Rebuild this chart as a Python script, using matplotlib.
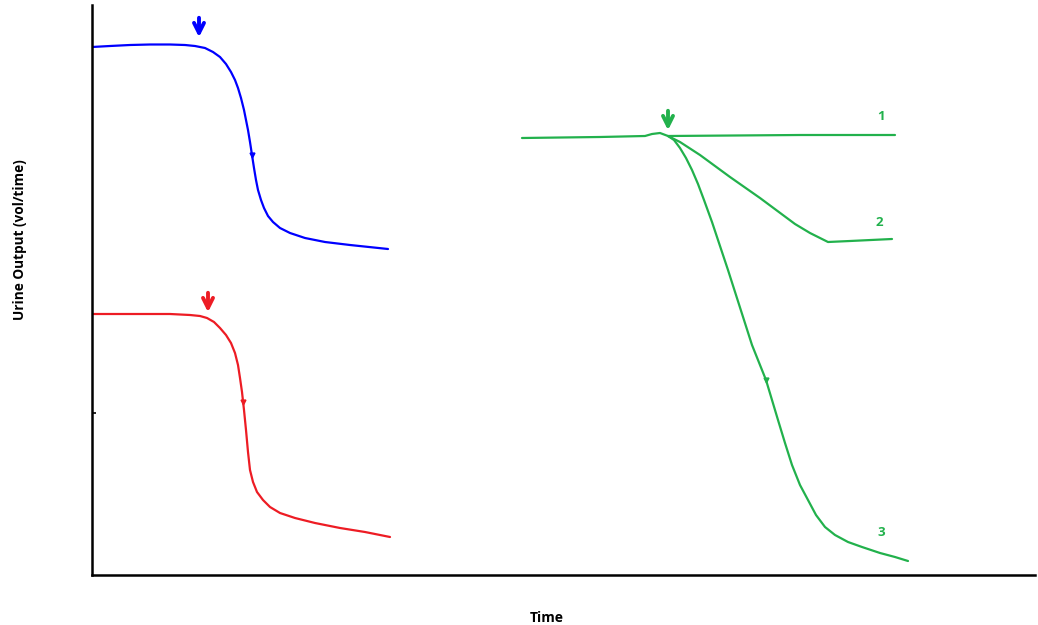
import matplotlib.pyplot as plt

# Values (time units across, output units up)
blue_t = [0, 18, 38, 58, 78, 93, 103, 113, 121, 128, 134, 139, 143, 146, 149,
          152, 154, 156, 158, 160, 162, 164, 166, 169, 172, 176, 181, 188, 198,
          213, 233, 258, 296]
blue_v = [528, 529, 530, 530.5, 530.5, 530, 529, 527, 523, 518, 511, 503, 495,
          487, 477, 465, 455, 445, 433, 420, 407, 395, 385, 375, 367, 359, 353,
          347, 342, 337, 333, 330, 326]

red_t = [0, 38, 78, 98, 108, 115, 122, 128, 134, 139, 143, 146, 148, 150, 152,
         154, 156, 158, 161, 165, 171, 178, 188, 203, 223, 248, 273, 298]
red_v = [261, 261, 261, 260, 259, 257, 253, 247, 240, 232, 222, 210, 197, 183,
         165, 145, 123, 105, 93, 83, 75, 68, 62, 57, 52, 47, 43, 38]

g1_t = [430, 508, 553, 560, 568, 576, 708, 803]
g1_v = [437, 438, 439, 441, 442, 439, 440, 440]

g2_t = [576, 588, 608, 638, 668, 703, 718, 736, 758, 800]
g2_v = [439, 433, 420, 398, 377, 351, 342, 333, 334, 336]

g3_t = [576, 582, 588, 594, 600, 606, 612, 620, 628, 636, 644, 652, 660, 668,
        674, 680, 686, 693, 700, 708, 716, 724, 733, 743, 756, 770, 788, 803,
        816]
g3_v = [439, 435, 427, 417, 405, 391, 375, 353, 329, 305, 280, 255, 230, 210,
        195, 175, 155, 132, 110, 90, 75, 60, 48, 40, 33, 28, 22, 18, 14]

blue_c = "#0000ff"
red_c = "#ed1c24"
green_c = "#22b14c"

fig = plt.figure(figsize=(10.38, 6.25), dpi=100)
ax = fig.add_axes([92 / 1038, 50 / 625, 943 / 1038, 570 / 625])
ax.set_xlim(0, 943)
ax.set_ylim(0, 570)

lw = 1.6
ax.plot(blue_t, blue_v, color=blue_c, lw=lw, solid_capstyle="round")
ax.plot(red_t, red_v, color=red_c, lw=lw, solid_capstyle="round")
for t, v in [(g1_t, g1_v), (g2_t, g2_v), (g3_t, g3_v)]:
    ax.plot(t, v, color=green_c, lw=lw, solid_capstyle="round")

# small direction marks on the falling curves
ax.plot(160, 420, marker="v", ms=3.5, color=blue_c)
ax.plot(151, 173, marker="v", ms=3.5, color=red_c)
ax.plot(674, 195, marker="v", ms=3.5, color=green_c)

# event arrows
for x0, y0, col in [(107, 560, blue_c), (116, 285, red_c), (576, 467, green_c)]:
    ax.annotate("", xy=(x0, y0 - 25), xytext=(x0, y0),
                arrowprops=dict(arrowstyle="->", color=col, lw=2.8,
                                mutation_scale=18))

for lbl, x0, y0 in [("1", 789, 458), ("2", 787, 352), ("3", 789, 43)]:
    ax.text(x0, y0, lbl, color=green_c, fontsize=9.5, fontweight="bold",
            family="Open Sans", ha="center", va="center")

for s in ["top", "right"]:
    ax.spines[s].set_visible(False)
for s in ["left", "bottom"]:
    ax.spines[s].set_linewidth(1.8)
ax.set_xticks([])
ax.set_yticks([162])
ax.set_yticklabels([""])
ax.tick_params(axis="y", direction="in", length=3, width=1.2)

fig.text(20 / 1038, 1 - 240 / 625, "Urine Output (vol/time)", rotation=90,
         fontsize=9.8, fontweight="bold", family="Open Sans",
         ha="center", va="center")
fig.text(547 / 1038, 1 - 618 / 625, "Time", fontsize=10, fontweight="bold",
         family="Open Sans", ha="center", va="center")

fig.savefig("out.png", dpi=100)
